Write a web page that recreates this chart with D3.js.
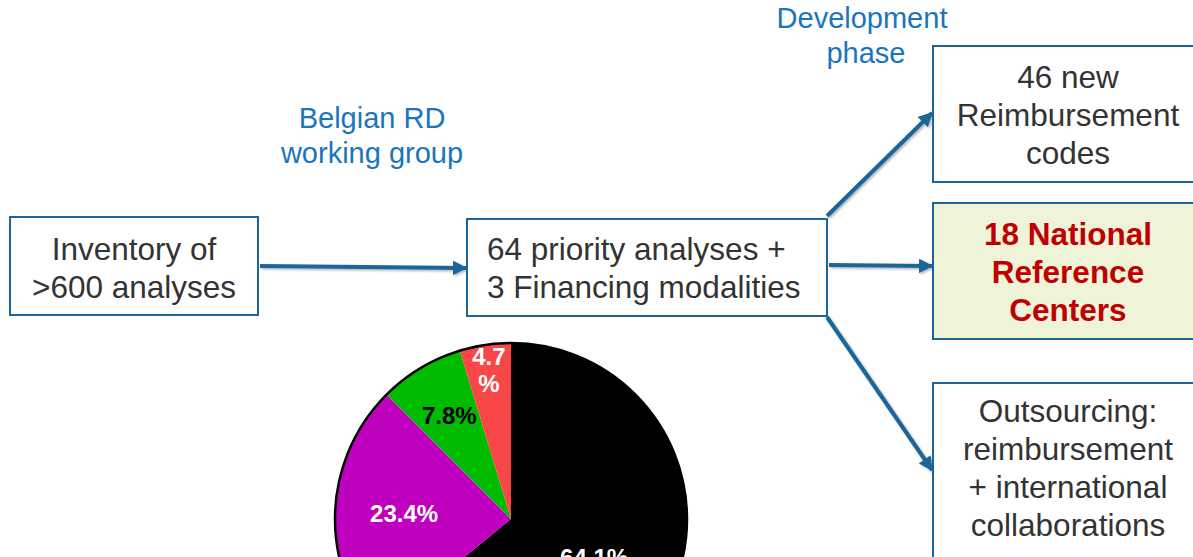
<!DOCTYPE html>
<html>
<head>
<meta charset="utf-8">
<script src="https://cdn.jsdelivr.net/npm/d3@7"></script>
<style>
  html, body { margin: 0; padding: 0; background: #fff; overflow: hidden; }
  svg { display: block; font-family: "Liberation Sans", Arial, sans-serif; }
</style>
</head>
<body>
<svg id="chart" width="1193" height="557"></svg>
<script>
// pie data
const categories = ['A', 'B', 'C', 'D'];
const shares = [64.1, 23.4, 7.8, 4.7];
const shareLabels = [['64.1%'], ['23.4%'], ['7.8%'], ['4.7', '%']];

// flowchart texts
const boxTexts = [
  ['Inventory of', '>600 analyses'],
  ['64 priority analyses +', '3 Financing modalities'],
  ['46 new', 'Reimbursement', 'codes'],
  ['18 National', 'Reference', 'Centers'],
  ['Outsourcing:', 'reimbursement', '+ international', 'collaborations']
];
const phaseLabels = [['Belgian RD', 'working group'], ['Development', 'phase']];

const svg = d3.select('#chart');
const blue = '#1b6598';
const textGrey = '#333333';
const labelBlue = '#1a75bc';

// layout of boxes
const boxes = [
  { x: 10, y: 217, w: 248, h: 98, anchor: 'middle', tx: 134, y0: 260 },
  { x: 467, y: 219, w: 360, h: 97, anchor: 'start', tx: 487, y0: 260 },
  { x: 933, y: 46, w: 300, h: 136, anchor: 'middle', tx: 1068, y0: 88 },
  { x: 933, y: 203, w: 300, h: 136, anchor: 'middle', tx: 1068, y0: 245, fill: '#eff4d9', bold: true, color: '#c00000' },
  { x: 933, y: 383, w: 300, h: 220, anchor: 'middle', tx: 1068, y0: 422 }
];

const defs = svg.append('defs');
defs.append('marker')
  .attr('id', 'head')
  .attr('viewBox', '0 0 10 10')
  .attr('refX', 9).attr('refY', 5)
  .attr('markerWidth', 3.8).attr('markerHeight', 3.6)
  .attr('markerUnits', 'strokeWidth')
  .attr('orient', 'auto')
  .append('path')
  .attr('d', 'M0,0 L10,5 L0,10 z')
  .attr('fill', blue);

const shadow = defs.append('filter').attr('id', 'shadow')
  .attr('filterUnits', 'userSpaceOnUse')
  .attr('x', 0).attr('y', 0).attr('width', 1193).attr('height', 557);
shadow.append('feDropShadow')
  .attr('dx', 1.5).attr('dy', 1.5).attr('stdDeviation', 1.2)
  .attr('flood-color', '#000').attr('flood-opacity', 0.3);

// arrows
const arrows = [
  [260, 266, 466, 268],
  [829, 265, 932, 266],
  [827, 216, 932, 113],
  [827, 317, 932, 470]
];
svg.append('g')
  .attr('filter', 'url(#shadow)')
  .selectAll('line')
  .data(arrows)
  .enter().append('line')
  .attr('x1', d => d[0]).attr('y1', d => d[1])
  .attr('x2', d => d[2]).attr('y2', d => d[3])
  .attr('stroke', blue)
  .attr('stroke-width', 4)
  .attr('marker-end', 'url(#head)');

// boxes
const bg = svg.append('g').selectAll('g')
  .data(boxes)
  .enter().append('g');

bg.append('rect')
  .attr('x', d => d.x).attr('y', d => d.y)
  .attr('width', d => d.w).attr('height', d => d.h)
  .attr('fill', d => d.fill || '#fff')
  .attr('stroke', blue)
  .attr('stroke-width', 2);

bg.each(function (d, i) {
  const t = d3.select(this).append('text')
    .attr('text-anchor', d.anchor)
    .attr('font-size', 31.5)
    .attr('font-weight', d.bold ? 'bold' : 'normal')
    .attr('fill', d.color || textGrey);
  boxTexts[i].forEach((line, j) => {
    t.append('tspan')
      .attr('x', d.tx)
      .attr('y', d.y0 + j * 38)
      .text(line);
  });
});

// phase labels
const phasePos = [{ x: 372, y0: 128 }, { x: 862, y0: 28 }];
phaseLabels.forEach((lines, i) => {
  const t = svg.append('text')
    .attr('text-anchor', 'middle')
    .attr('font-size', 29)
    .attr('fill', labelBlue);
  lines.forEach((line, j) => {
    t.append('tspan')
      .attr('x', phasePos[i].x + (i === 1 && j === 1 ? 4 : 0))
      .attr('y', phasePos[i].y0 + j * 35)
      .text(line);
  });
});

// pie
const radius = 176;
const colors = d3.scaleOrdinal()
  .domain(categories)
  .range(['#000000', '#bf00bf', '#00bb00', '#f94646']);
const labelColors = ['#ffffff', '#ffffff', '#000000', '#ffffff'];
const labelRadius = [92, 107, 120, 150];

const pie = d3.pie().sort(null).value(d => d.v).startAngle(0).endAngle(2 * Math.PI);
const arcs = pie(categories.map((c, i) => ({ c, v: shares[i], i })));
const arc = d3.arc().innerRadius(0).outerRadius(radius);

const pg = svg.append('g').attr('transform', 'translate(511,519)');

pg.selectAll('path.slice')
  .data(arcs)
  .enter().append('path')
  .attr('class', 'slice')
  .attr('d', arc)
  .attr('fill', d => colors(d.data.c));

pg.append('circle')
  .attr('r', radius)
  .attr('fill', 'none')
  .attr('stroke', '#000')
  .attr('stroke-width', 2.5);

pg.selectAll('text.lbl')
  .data(arcs)
  .enter().append('text')
  .attr('class', 'lbl')
  .attr('text-anchor', 'middle')
  .attr('font-size', 24)
  .attr('font-weight', 'bold')
  .attr('fill', d => labelColors[d.data.i])
  .each(function (d) {
    const r = labelRadius[d.data.i];
    const c = d3.arc().innerRadius(r).outerRadius(r).centroid(d);
    const lines = shareLabels[d.data.i];
    const t = d3.select(this);
    lines.forEach((line, j) => {
      t.append('tspan')
        .attr('x', c[0])
        .attr('y', c[1] + 8 + (j - (lines.length - 1) / 2) * 27)
        .text(line);
    });
  });
</script>
</body>
</html>
